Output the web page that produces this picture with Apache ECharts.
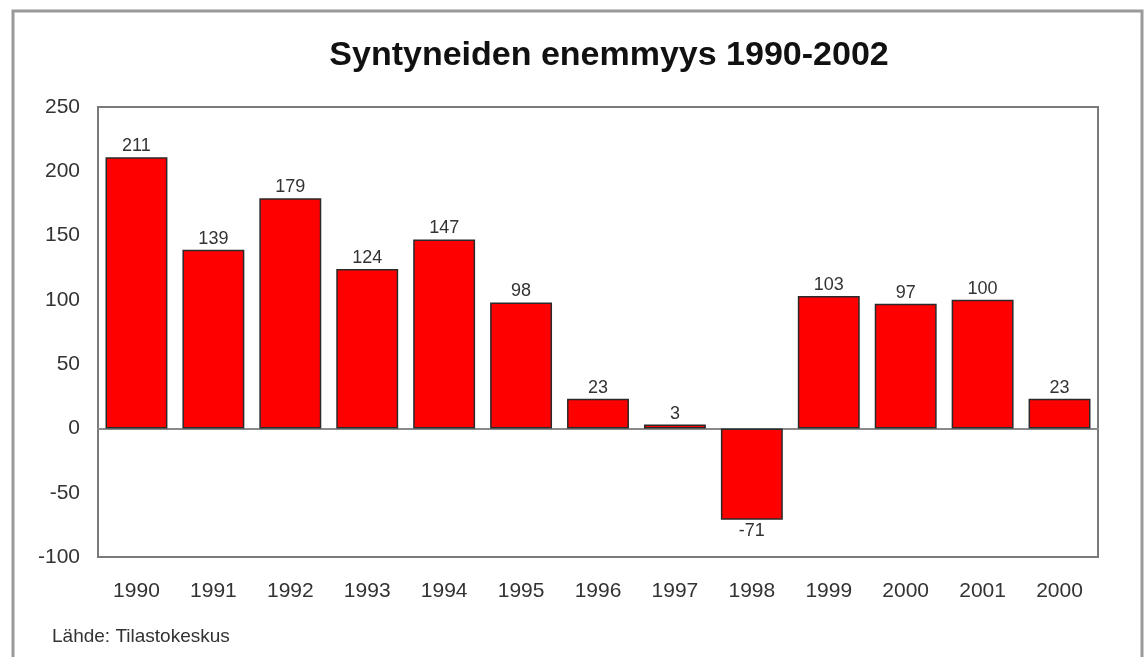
<!DOCTYPE html>
<html>
<head>
<meta charset="utf-8">
<script src="https://cdn.jsdelivr.net/npm/echarts@6/dist/echarts.min.js"></script>
<style>html,body{margin:0;padding:0;background:#fff;}#c{width:1146px;height:657px;}</style>
</head>
<body>
<div id="c"></div>
<script>
const categories = ['1990','1991','1992','1993','1994','1995','1996','1997','1998','1999','2000','2001','2000'];
const values = [211, 139, 179, 124, 147, 98, 23, 3, -71, 103, 97, 100, 23];
const titleText = 'Syntyneiden enemmyys 1990-2002';
const sourceText = 'Lähde: Tilastokeskus';

const chart = echarts.init(document.getElementById('c'), null, {renderer: 'canvas'});
const font = 'Liberation Sans, Arial, sans-serif';
chart.setOption({
  animation: false,
  backgroundColor: '#fff',
  title: {
    text: titleText,
    left: 604, top: 34, textAlign: 'center',
    textStyle: {fontFamily: font, fontSize: 34, fontWeight: 'bold', color: '#111'}
  },
  graphic: [
    {type: 'rect', shape: {x: 13, y: 11, width: 1129, height: 700},
     style: {fill: 'none', stroke: '#9a9a9a', lineWidth: 3}, silent: true},
    {type: 'text', left: 52, top: 627,
     style: {text: sourceText, font: '19px Liberation Sans, Arial, sans-serif', fill: '#333'}}
  ],
  grid: {left: 98, top: 107, width: 1000, height: 450, show: true,
         borderColor: '#7a7a7a', borderWidth: 2, backgroundColor: '#fff'},
  xAxis: {
    type: 'category', data: categories,
    axisLine: {onZero: true, lineStyle: {color: '#8a8a8a', width: 2}},
    axisTick: {show: false},
    axisLabel: {fontFamily: font, fontSize: 21, color: '#333', margin: 24, interval: 0}
  },
  yAxis: {
    type: 'value', min: -100, max: 250, interval: 50,
    axisLine: {show: false}, axisTick: {show: false}, splitLine: {show: false},
    axisLabel: {fontFamily: font, fontSize: 21, color: '#333', margin: 18}
  },
  series: [{
    type: 'bar',
    barCategoryGap: '19.5%',
    data: values.map(v => ({value: v, label: {position: v < 0 ? 'bottom' : 'top'}})),
    itemStyle: {color: '#ff0000', borderColor: '#2a2a2a', borderWidth: 1.5},
    label: {show: true, fontFamily: font, fontSize: 18, color: '#333', distance: 2}
  }]
});
</script>
</body>
</html>
